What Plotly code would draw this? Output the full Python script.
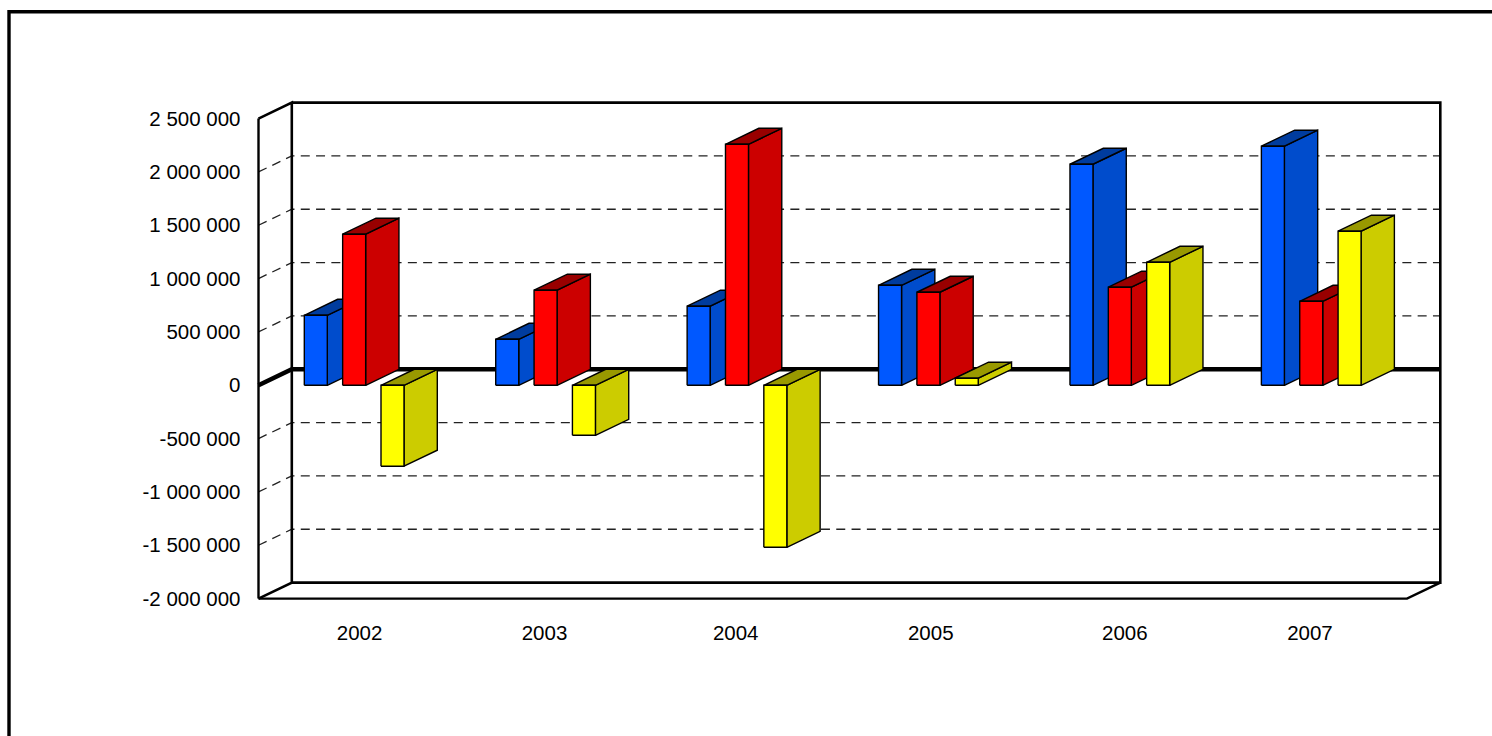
import plotly.graph_objects as go

years = ["2002", "2003", "2004", "2005", "2006", "2007"]
year_label_positions = [0.528, 1.494, 2.493, 3.512, 4.526, 5.493]
blue_values = [656000, 431000, 741000, 937000, 2072000, 2241000]
red_values = [1416000, 891000, 2259000, 872000, 919000, 787000]
yellow_values = [-759000, -469000, -1519000, 66000, 1153000, 1444000]
tick_values = [2500000, 2000000, 1500000, 1000000, 500000, 0, -500000, -1000000, -1500000, -2000000]
tick_labels = ["2 500 000", "2 000 000", "1 500 000", "1 000 000", "500 000", "0",
               "-500 000", "-1 000 000", "-1 500 000", "-2 000 000"]

W, H = 1492, 736
PX_LEFT, PX_RIGHT, PX_TOP, PX_BOTTOM = 258.5, 1407, 118.6, 598.6
PAD = 6
Y_MAX, Y_MIN = 2500000, -2000000
N = len(years)
UNIT_X = (PX_RIGHT - PX_LEFT) / N
UNIT_Y = (Y_MAX - Y_MIN) / (PX_BOTTOM - PX_TOP)
DX = 33.3 / UNIT_X
DY = 16 * UNIT_Y
BAR_W = 23.0 / UNIT_X
STEP = 38.35 / UNIT_X
FIRST = (304.3 - PX_LEFT) / UNIT_X

series = [
    (blue_values, "#0058FF", "#004CCC", "#003C9E"),
    (red_values, "#FF0000", "#CC0000", "#990000"),
    (yellow_values, "#FFFF00", "#CCCC00", "#999900"),
]


def poly(xs, ys, fill, width=1.4, color="black"):
    return go.Scatter(x=xs + xs[:1], y=ys + ys[:1], mode="lines", fill="toself",
                      fillcolor=fill, line=dict(color=color, width=width),
                      hoverinfo="skip", showlegend=False, cliponaxis=False)


def line(xs, ys, width, dash="solid", color="black"):
    return go.Scatter(x=xs, y=ys, mode="lines", line=dict(color=color, width=width, dash=dash),
                      hoverinfo="skip", showlegend=False, cliponaxis=False)


fig = go.Figure()

# dashed gridlines on the side and back walls
for v in tick_values:
    if v in (Y_MAX, Y_MIN, 0):
        continue
    fig.add_trace(line([0, DX, N + DX], [v, v + DY, v + DY], 1.3, dash="9px,6.3px", color="#222222"))

# walls and floor
fig.add_trace(line([0, 0], [Y_MIN, Y_MAX], 2.4))
fig.add_trace(line([0, DX, DX, 0], [Y_MAX, Y_MAX + DY, Y_MIN + DY, Y_MIN], 2.6))
fig.add_trace(line([DX, N + DX, N + DX, DX], [Y_MAX + DY, Y_MAX + DY, Y_MIN + DY, Y_MIN + DY], 2.6))
fig.add_trace(line([0, N, N + DX], [Y_MIN, Y_MIN, Y_MIN + DY], 2.4))

# zero plane edge
fig.add_trace(line([0, DX, N + DX], [0, DY, DY], 4.5))

# bars
for i in range(N):
    for k, (vals, front, side, top) in enumerate(series):
        v = vals[i]
        x0 = FIRST + i + k * STEP
        x1 = x0 + BAR_W
        hi = max(v, 0)
        lo = min(v, 0)
        fig.add_trace(poly([x1, x1 + DX, x1 + DX, x1], [lo, lo + DY, hi + DY, hi], side))
        fig.add_trace(poly([x0, x0 + DX, x1 + DX, x1], [hi, hi + DY, hi + DY, hi], top))
        fig.add_trace(poly([x0, x1, x1, x0], [lo, lo, hi, hi], front))

FONT = dict(family="Liberation Sans, Arial, sans-serif", size=20.5, color="black")

fig.update_layout(
    template="none",
    width=W, height=H, autosize=False,
    margin=dict(l=0, r=0, t=0, b=0, pad=0),
    paper_bgcolor="white", plot_bgcolor="white",
    showlegend=False,
    xaxis=dict(domain=[(PX_LEFT - PAD) / W, (PX_RIGHT + 33.3 + PAD) / W],
               range=[-PAD / UNIT_X, N + DX + PAD / UNIT_X], showgrid=False,
               zeroline=False, showline=False, automargin=False, tickmode="array",
               tickvals=year_label_positions, ticktext=years, ticks="", ticklabelstandoff=14,
               tickfont=FONT, fixedrange=True),
    yaxis=dict(domain=[(H - PX_BOTTOM - PAD) / H, (H - PX_TOP + 16 + PAD) / H],
               range=[Y_MIN - PAD * UNIT_Y, Y_MAX + DY + PAD * UNIT_Y],
               showgrid=False, zeroline=False, showline=False, automargin=False, tickmode="array",
               tickvals=tick_values, ticktext=tick_labels, ticks="", ticklabelstandoff=11,
               tickfont=FONT, fixedrange=True),
    shapes=[dict(type="path", xref="paper", yref="paper", layer="above",
                 path=f"M {9/W} 0 L {9/W} {1-11.7/H} L 1 {1-11.7/H}",
                 line=dict(color="black", width=3.4))],
)

fig.write_html("out.html", config={"displayModeBar": False},
               post_script="document.body.style.margin='0';")
